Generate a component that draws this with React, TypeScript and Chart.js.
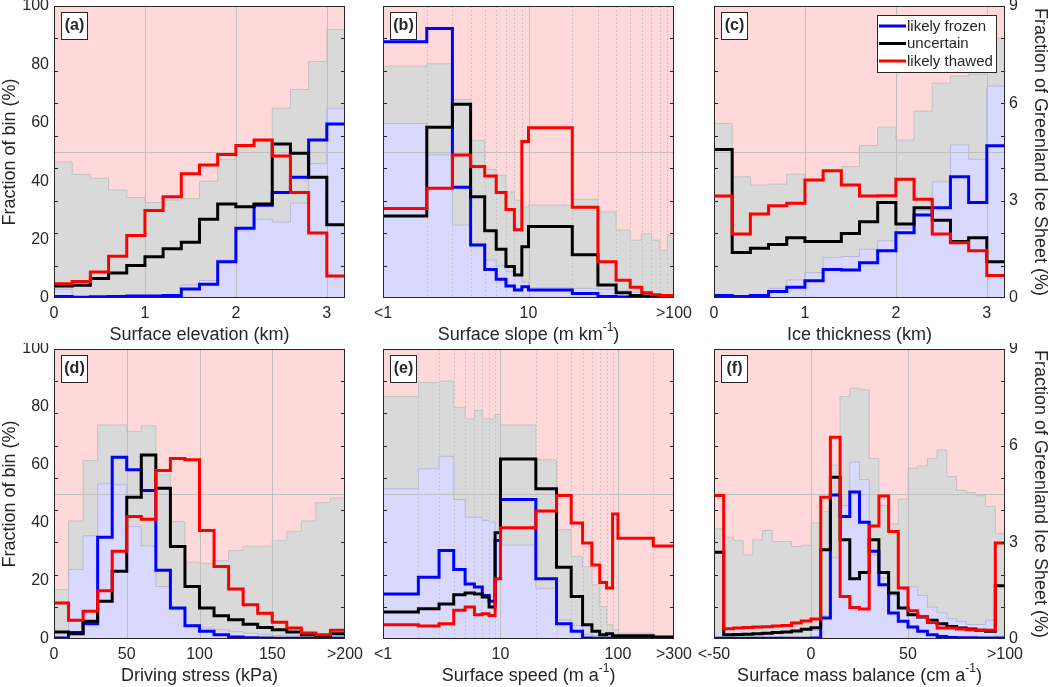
import React, { useEffect, useRef } from 'react';
import { Chart, registerables } from 'chart.js';

Chart.register(...registerables);

const FONT = "'Liberation Sans', Arial, Helvetica, sans-serif";
const TEXT = '#262626';

// ---------------- (a) Surface elevation (km) ----------------
const elevationEdgesKm = [0, 0.2, 0.4, 0.6, 0.8, 1.0, 1.2, 1.4, 1.6, 1.8, 2.0, 2.2, 2.4, 2.6, 2.8, 3.0, 3.2];
const elevationFrozenBinPct = [3, 0.5, 0.5, 0.5, 0.5, 0.5, 0.8, 4.5, 6, 13, 23, 27, 26, 32.5, 46, 65];
const elevationFrozenUncertainBinPct = [46.6, 42.3, 41, 37, 34.4, 32.7, 33.5, 34, 40, 47.5, 51.8, 53.5, 65, 71.4, 81, 92];
const elevationFrozenSheetPct = [0.05, 0.02, 0.04, 0.05, 0.06, 0.06, 0.08, 0.28, 0.42, 1.12, 2.15, 2.86, 3.25, 3.72, 4.87, 5.36];
const elevationUncertainSheetPct = [0.37, 0.39, 0.6, 0.77, 1.0, 1.27, 1.52, 1.72, 2.43, 2.9, 2.81, 2.9, 4.75, 4.46, 3.72, 2.26];
const elevationThawedSheetPct = [0.44, 0.51, 0.8, 1.29, 1.93, 2.7, 3.12, 3.83, 4.1, 4.42, 4.7, 4.87, 4.38, 3.25, 2.0, 0.68];

// ---------------- (b) Surface slope (m km-1) ----------------
const slopeEdges = [1, 2, 3, 4, 5, 6, 7, 8, 9, 10, 20, 30, 40, 50, 60, 70, 80, 90, 100];
const slopeFrozenBinPct = [59.8, 49, 25, 18.5, 13, 11, 9, 8, 5.5, 3.5, 3.3, 3, 2.5, 2, 1.5, 1.2, 1, 1];
const slopeFrozenUncertainBinPct = [79.4, 80.2, 68, 54, 44, 42, 36.3, 33.5, 31.2, 31.8, 33.8, 29.5, 23.3, 19.8, 22, 19.8, 16.3, 21.5];
const slopeFrozenSheetPct = [7.9, 8.31, 3.41, 1.63, 0.88, 0.58, 0.37, 0.25, 0.35, 0.25, 0.14, 0.05, 0.03, 0.02, 0.02, 0.02, 0.02, 0.02];
const slopeUncertainSheetPct = [2.53, 5.26, 5.97, 3.12, 2.07, 1.5, 0.97, 0.71, 1.58, 2.2, 1.33, 0.4, 0.16, 0.08, 0.06, 0.04, 0.03, 0.03];
const slopeThawedSheetPct = [2.76, 3.38, 4.41, 4.05, 3.76, 3.25, 2.73, 2.1, 4.82, 5.25, 2.8, 1.12, 0.55, 0.33, 0.16, 0.1, 0.08, 0.08];

// ---------------- (c) Ice thickness (km) ----------------
const thicknessEdgesKm = [0, 0.2, 0.4, 0.6, 0.8, 1.0, 1.2, 1.4, 1.6, 1.8, 2.0, 2.2, 2.4, 2.6, 2.8, 3.0, 3.2];
const thicknessFrozenBinPct = [1, 0.5, 0.5, 3.3, 6.2, 8.7, 13.9, 14.2, 16.7, 19.6, 24, 30, 39.8, 52.4, 47.5, 72.6];
const thicknessFrozenUncertainBinPct = [59.8, 41.5, 38.7, 39, 42.4, 40.5, 43.2, 45, 52.2, 58.5, 54.1, 64, 73.6, 76, 76.7, 89];
const thicknessFrozenSheetPct = [0.08, 0.05, 0.08, 0.2, 0.33, 0.53, 0.88, 0.86, 1.09, 1.46, 2.01, 2.56, 2.78, 3.74, 2.94, 4.69];
const thicknessUncertainSheetPct = [4.58, 1.4, 1.53, 1.65, 1.86, 1.74, 1.74, 1.99, 2.35, 2.94, 2.28, 2.78, 2.4, 1.74, 1.86, 1.12];
const thicknessThawedSheetPct = [3.14, 1.97, 2.59, 2.84, 2.92, 3.64, 3.92, 3.48, 3.14, 3.15, 3.66, 3.04, 1.97, 1.7, 1.46, 0.69];

// ---------------- (d) Driving stress (kPa) ----------------
const stressEdgesKPa = [0, 10, 20, 30, 40, 50, 60, 70, 80, 90, 100, 110, 120, 130, 140, 150, 160, 170, 180, 190, 200];
const stressFrozenBinPct = [0.7, 24, 35.6, 53.5, 53.2, 38.8, 32.1, 18.1, 10.1, 4.9, 3.8, 3.2, 2.5, 2, 1.5, 1.2, 1, 1, 1, 1];
const stressFrozenUncertainBinPct = [17, 40.7, 61.5, 73.8, 73.8, 71.5, 73.5, 56.6, 40.5, 26.5, 26, 27, 30.5, 32, 32, 34, 37, 40.7, 47, 48.6];
const stressFrozenSheetPct = [0.03, 0.2, 0.47, 3.16, 5.64, 5.25, 4.61, 2.13, 0.96, 0.41, 0.24, 0.13, 0.06, 0.04, 0.03, 0.02, 0.02, 0.02, 0.02, 0.02];
const stressUncertainSheetPct = [0.22, 0.16, 0.55, 1.17, 2.1, 4.4, 5.71, 4.68, 2.87, 1.63, 0.96, 0.72, 0.6, 0.46, 0.36, 0.29, 0.22, 0.13, 0.1, 0.16];
const stressThawedSheetPct = [1.12, 0.58, 0.86, 1.5, 2.72, 3.8, 3.72, 5.23, 5.6, 5.56, 3.37, 2.25, 1.55, 1.06, 0.8, 0.52, 0.34, 0.19, 0.13, 0.27];

// ---------------- (e) Surface speed (m a-1) ----------------
const speedEdges = [1, 2, 3, 4, 5, 6, 7, 8, 9, 10, 20, 30, 40, 50, 60, 70, 80, 90, 100, 200, 300];
const speedFrozenBinPct = [51.8, 58.7, 63, 48.1, 42, 42, 40.9, 40.3, 37, 32.4, 17.5, 6.6, 4.6, 1.5, 1.2, 1, 1, 0.8, 0.5, 0.3];
const speedFrozenUncertainBinPct = [83.6, 88.5, 88.9, 79.9, 75.9, 78.8, 75.9, 75.9, 77.4, 73.8, 61.8, 37.7, 28.5, 25, 18.7, 11.2, 4.9, 3.2, 2, 1];
const speedFrozenSheetPct = [1.4, 1.92, 2.75, 2.16, 1.71, 1.61, 1.35, 1.17, 3.06, 4.33, 1.87, 0.47, 0.24, 0.03, 0.02, 0.02, 0.02, 0.02, 0.02, 0.02];
const speedUncertainSheetPct = [0.84, 0.94, 1.09, 1.37, 1.43, 1.4, 1.3, 0.99, 3.3, 5.59, 4.66, 2.23, 1.32, 0.44, 0.24, 0.13, 0.16, 0.1, 0.1, 0.06];
const speedThawedSheetPct = [0.44, 0.4, 0.47, 0.89, 0.99, 0.75, 0.78, 0.73, 1.87, 3.45, 3.97, 4.45, 3.6, 2.98, 2.3, 1.75, 1.58, 3.88, 3.13, 2.89];

// ---------------- (f) Surface mass balance (cm a-1) ----------------
const smbEdges = [-50, -45, -40, -35, -30, -25, -20, -15, -10, -5, 0, 5, 10, 15, 20, 25, 30, 35, 40, 45, 50, 55, 60, 65, 70, 75, 80, 85, 90, 95, 100];
const smbFrozenBinPct = [0.3, 0.3, 0.3, 0.3, 0.3, 0.3, 0.3, 0.3, 0.3, 0.3, 3, 8, 28, 46, 61, 55, 29, 21, 15, 18, 18, 15, 11, 9, 7, 6, 5, 5, 6.5, 1];
const smbFrozenUncertainBinPct = [38, 35.1, 34, 29, 34.2, 37.4, 33.6, 33.6, 31.9, 32.3, 40, 44, 60, 83.6, 86.5, 85.9, 62.3, 46, 39.7, 48.2, 58.9, 59.7, 62.3, 65.2, 56, 51.2, 50.5, 49.4, 45.7, 36.3];
const smbFrozenSheetPct = [0.02, 0.02, 0.02, 0.02, 0.02, 0.02, 0.02, 0.02, 0.02, 0.02, 0.03, 0.65, 4.47, 3.8, 4.56, 3.62, 2.72, 1.68, 0.81, 0.55, 0.37, 0.24, 0.13, 0.08, 0.05, 0.04, 0.04, 0.03, 0.03, 0.03];
const smbUncertainSheetPct = [2.69, 0.13, 0.14, 0.15, 0.16, 0.18, 0.2, 0.22, 0.25, 0.3, 0.35, 2.77, 5.02, 3.08, 1.87, 2.06, 3.08, 2.06, 1.43, 0.96, 0.75, 0.68, 0.58, 0.47, 0.39, 0.34, 0.31, 0.27, 0.24, 1.65];
const smbThawedSheetPct = [4.45, 0.32, 0.34, 0.36, 0.37, 0.38, 0.4, 0.42, 0.5, 0.56, 0.62, 4.4, 6.26, 1.32, 0.98, 0.93, 3.51, 4.44, 3.34, 1.58, 0.88, 0.7, 0.51, 0.34, 0.34, 0.31, 0.29, 0.27, 0.27, 2.98];

// ---------------- labels / ticks ----------------
const seriesLabels = ['likely frozen', 'uncertain', 'likely thawed'];
const leftAxisTitle = 'Fraction of bin (%)';
const rightAxisTitle = 'Fraction of Greenland Ice Sheet (%)';

type Part = { text: string; sup?: boolean };

interface PanelSpec {
  id: string;
  tag: string;
  edges: number[];
  frozenBin: number[];
  frozenUncBin: number[];
  frozen: number[];
  uncertain: number[];
  thawed: number[];
  xType: 'linear' | 'logarithmic';
  xMin: number;
  xMax: number;
  xTicks: number[];
  xTickLabels: string[];
  gridSolid: number[];
  gridDotted: number[];
  xTitle: Part[];
  leftLabels: boolean;
  rightLabels: boolean;
  legend: boolean;
  left: number;
  top: number;
  h: number;
}

const PW = 291;
const LW = 54;
const RW = 46;
const TP = 6;
const BH = 48;

const panels: PanelSpec[] = [
  {
    id: 'a', tag: '(a)', edges: elevationEdgesKm,
    frozenBin: elevationFrozenBinPct, frozenUncBin: elevationFrozenUncertainBinPct,
    frozen: elevationFrozenSheetPct, uncertain: elevationUncertainSheetPct, thawed: elevationThawedSheetPct,
    xType: 'linear', xMin: 0, xMax: 3.2, xTicks: [0, 1, 2, 3], xTickLabels: ['0', '1', '2', '3'],
    gridSolid: [1, 2, 3], gridDotted: [],
    xTitle: [{ text: 'Surface elevation (km)' }],
    leftLabels: true, rightLabels: false, legend: false, left: 54, top: 6, h: 292,
  },
  {
    id: 'b', tag: '(b)', edges: slopeEdges,
    frozenBin: slopeFrozenBinPct, frozenUncBin: slopeFrozenUncertainBinPct,
    frozen: slopeFrozenSheetPct, uncertain: slopeUncertainSheetPct, thawed: slopeThawedSheetPct,
    xType: 'logarithmic', xMin: 1, xMax: 100, xTicks: [1, 10, 100], xTickLabels: ['<1', '10', '>100'],
    gridSolid: [10], gridDotted: [2, 3, 4, 5, 6, 7, 8, 9, 20, 30, 40, 50, 60, 70, 80, 90],
    xTitle: [{ text: 'Surface slope (m km' }, { text: '-1', sup: true }, { text: ')' }],
    leftLabels: false, rightLabels: false, legend: false, left: 383, top: 6, h: 292,
  },
  {
    id: 'c', tag: '(c)', edges: thicknessEdgesKm,
    frozenBin: thicknessFrozenBinPct, frozenUncBin: thicknessFrozenUncertainBinPct,
    frozen: thicknessFrozenSheetPct, uncertain: thicknessUncertainSheetPct, thawed: thicknessThawedSheetPct,
    xType: 'linear', xMin: 0, xMax: 3.2, xTicks: [0, 1, 2, 3], xTickLabels: ['0', '1', '2', '3'],
    gridSolid: [1, 2, 3], gridDotted: [],
    xTitle: [{ text: 'Ice thickness (km)' }],
    leftLabels: false, rightLabels: true, legend: true, left: 714, top: 6, h: 292,
  },
  {
    id: 'd', tag: '(d)', edges: stressEdgesKPa,
    frozenBin: stressFrozenBinPct, frozenUncBin: stressFrozenUncertainBinPct,
    frozen: stressFrozenSheetPct, uncertain: stressUncertainSheetPct, thawed: stressThawedSheetPct,
    xType: 'linear', xMin: 0, xMax: 200, xTicks: [0, 50, 100, 150, 200], xTickLabels: ['0', '50', '100', '150', '>200'],
    gridSolid: [50, 100, 150], gridDotted: [],
    xTitle: [{ text: 'Driving stress (kPa)' }],
    leftLabels: true, rightLabels: false, legend: false, left: 54, top: 349, h: 290,
  },
  {
    id: 'e', tag: '(e)', edges: speedEdges,
    frozenBin: speedFrozenBinPct, frozenUncBin: speedFrozenUncertainBinPct,
    frozen: speedFrozenSheetPct, uncertain: speedUncertainSheetPct, thawed: speedThawedSheetPct,
    xType: 'logarithmic', xMin: 1, xMax: 300, xTicks: [1, 10, 100, 300], xTickLabels: ['<1', '10', '100', '>300'],
    gridSolid: [10, 100], gridDotted: [2, 3, 4, 5, 6, 7, 8, 9, 20, 30, 40, 50, 60, 70, 80, 90, 200],
    xTitle: [{ text: 'Surface speed (m a' }, { text: '-1', sup: true }, { text: ')' }],
    leftLabels: false, rightLabels: false, legend: false, left: 383, top: 349, h: 290,
  },
  {
    id: 'f', tag: '(f)', edges: smbEdges,
    frozenBin: smbFrozenBinPct, frozenUncBin: smbFrozenUncertainBinPct,
    frozen: smbFrozenSheetPct, uncertain: smbUncertainSheetPct, thawed: smbThawedSheetPct,
    xType: 'linear', xMin: -50, xMax: 100, xTicks: [-50, 0, 50, 100], xTickLabels: ['<-50', '0', '50', '>100'],
    gridSolid: [0, 50], gridDotted: [],
    xTitle: [{ text: 'Surface mass balance (cm a' }, { text: '-1', sup: true }, { text: ')' }],
    leftLabels: false, rightLabels: true, legend: false, left: 714, top: 349, h: 290,
  },
];

const steps = (edges: number[], vals: number[]) =>
  edges.map((e, i) => ({ x: e, y: vals[Math.min(i, vals.length - 1)] }));

const COLORS = {
  frozen: '#0000ff',
  uncertain: '#000000',
  thawed: '#ff0000',
  pink: '#ffd9d9',
  gray: '#d9d9d9',
  blue: '#d9d9ff',
};

function makeDeco(spec: PanelSpec) {
  return {
    id: 'deco',
    beforeDraw(chart: any) {
      const { ctx, chartArea: a } = chart;
      ctx.save();
      ctx.fillStyle = COLORS.pink;
      ctx.fillRect(a.left, a.top, a.right - a.left, a.bottom - a.top);
      ctx.restore();
    },
    beforeDatasetDraw(chart: any, args: any) {
      if (args.index !== 2) return;
      const { ctx, chartArea: a, scales } = chart;
      ctx.save();
      ctx.lineWidth = 1;
      ctx.strokeStyle = '#bfbfbf';
      ctx.beginPath();
      const y50 = Math.round(scales.y.getPixelForValue(50)) + 0.5;
      ctx.moveTo(a.left, y50);
      ctx.lineTo(a.right, y50);
      spec.gridSolid.forEach((v) => {
        const x = Math.round(scales.x.getPixelForValue(v)) + 0.5;
        ctx.moveTo(x, a.top);
        ctx.lineTo(x, a.bottom);
      });
      ctx.stroke();
      if (spec.gridDotted.length) {
        ctx.setLineDash([2, 2]);
        ctx.strokeStyle = '#c6c6c6';
        ctx.beginPath();
        spec.gridDotted.forEach((v) => {
          const x = Math.round(scales.x.getPixelForValue(v)) + 0.5;
          ctx.moveTo(x, a.top);
          ctx.lineTo(x, a.bottom);
        });
        ctx.stroke();
      }
      ctx.restore();
    },
    afterDraw(chart: any) {
      const { ctx, chartArea: a, scales } = chart;
      ctx.save();
      // frame
      ctx.strokeStyle = TEXT;
      ctx.lineWidth = 1;
      ctx.strokeRect(a.left + 0.5, a.top + 0.5, a.right - a.left - 1, a.bottom - a.top - 1);
      // inward tick marks
      ctx.beginPath();
      for (let u = 1; u < 9; u++) {
        const y = Math.round(scales.y1.getPixelForValue(u)) + 0.5;
        ctx.moveTo(a.left, y);
        ctx.lineTo(a.left + 4, y);
        ctx.moveTo(a.right - 4, y);
        ctx.lineTo(a.right, y);
      }
      ctx.stroke();

      // panel tag
      const bx = a.left + 7;
      const by = a.top + 6;
      ctx.fillStyle = '#ffffff';
      ctx.fillRect(bx, by, 26, 27);
      ctx.strokeRect(bx + 0.5, by + 0.5, 26, 27);
      ctx.fillStyle = TEXT;
      ctx.font = `bold 16px ${FONT}`;
      ctx.textAlign = 'center';
      ctx.textBaseline = 'middle';
      ctx.fillText(spec.tag, bx + 13.5, by + 14);

      // x title with optional superscript
      const baseFont = `18px ${FONT}`;
      const supFont = `12px ${FONT}`;
      let total = 0;
      spec.xTitle.forEach((p) => {
        ctx.font = p.sup ? supFont : baseFont;
        total += ctx.measureText(p.text).width;
      });
      let x = (a.left + a.right) / 2 - total / 2;
      const ty = a.bottom + 37;
      ctx.textAlign = 'left';
      spec.xTitle.forEach((p) => {
        ctx.font = p.sup ? supFont : baseFont;
        ctx.fillText(p.text, x, p.sup ? ty - 7 : ty);
        x += ctx.measureText(p.text).width;
      });

      // y titles
      ctx.font = baseFont;
      ctx.textAlign = 'center';
      const cy = (a.top + a.bottom) / 2;
      if (spec.leftLabels) {
        ctx.save();
        ctx.translate(a.left - 44, cy);
        ctx.rotate(-Math.PI / 2);
        ctx.fillText(leftAxisTitle, 0, 0);
        ctx.restore();
      }
      if (spec.rightLabels) {
        ctx.save();
        ctx.translate(a.right + 35, cy);
        ctx.rotate(Math.PI / 2);
        ctx.fillText(rightAxisTitle, 0, 0);
        ctx.restore();
      }

      // legend
      if (spec.legend) {
        const lx = a.right - 128;
        const ly = a.top + 9;
        ctx.fillStyle = '#ffffff';
        ctx.fillRect(lx, ly, 119, 57);
        ctx.strokeStyle = TEXT;
        ctx.lineWidth = 1;
        ctx.strokeRect(lx + 0.5, ly + 0.5, 119, 57);
        const cols = [COLORS.frozen, COLORS.uncertain, COLORS.thawed];
        const rows = [11, 28.5, 46];
        ctx.font = `15px ${FONT}`;
        ctx.textAlign = 'left';
        ctx.textBaseline = 'middle';
        seriesLabels.forEach((lab, i) => {
          ctx.strokeStyle = cols[i];
          ctx.lineWidth = 3;
          ctx.beginPath();
          ctx.moveTo(lx + 2, ly + rows[i]);
          ctx.lineTo(lx + 29, ly + rows[i]);
          ctx.stroke();
          ctx.fillStyle = TEXT;
          ctx.fillText(lab, lx + 30, ly + rows[i] + 0.5);
        });
      }
      ctx.restore();
    },
  };
}

function Panel({ spec }: { spec: PanelSpec }) {
  const ref = useRef<HTMLCanvasElement>(null);
  const cw = LW + PW + RW;
  const ch = TP + spec.h + BH;
  useEffect(() => {
    const tickFont = { family: FONT, size: 16 };
    const lineDs = (label: string, vals: number[], color: string) => ({
      label,
      data: steps(spec.edges, vals),
      yAxisID: 'y1',
      borderColor: color,
      backgroundColor: color,
      borderWidth: 3,
      stepped: true,
      pointRadius: 0,
      fill: false,
      borderJoinStyle: 'miter',
      borderCapStyle: 'butt',
    });
    const areaDs = (label: string, vals: number[], fillColor: string, edge: string) => ({
      label,
      data: steps(spec.edges, vals),
      yAxisID: 'y',
      borderColor: edge,
      backgroundColor: fillColor,
      borderWidth: 1,
      stepped: true,
      pointRadius: 0,
      fill: 'origin',
    });
    const chart = new Chart(ref.current as HTMLCanvasElement, {
      type: 'line',
      data: {
        datasets: [
          lineDs(seriesLabels[2], spec.thawed, COLORS.thawed),
          lineDs(seriesLabels[1], spec.uncertain, COLORS.uncertain),
          lineDs(seriesLabels[0], spec.frozen, COLORS.frozen),
          areaDs('frozen share of bin', spec.frozenBin, COLORS.blue, 'rgba(170,170,205,0.7)'),
          areaDs('frozen + uncertain share of bin', spec.frozenUncBin, COLORS.gray, '#c2c2c2'),
        ] as any,
      },
      options: {
        animation: false,
        responsive: false,
        devicePixelRatio: 1,
        events: [],
        layout: { padding: { top: TP, left: 0, right: 0, bottom: 0 } },
        plugins: { legend: { display: false }, tooltip: { enabled: false } },
        scales: {
          x: {
            type: spec.xType,
            position: 'bottom',
            min: spec.xMin,
            max: spec.xMax,
            grid: { display: false, drawTicks: false },
            border: { display: false },
            ticks: {
              autoSkip: false,
              maxRotation: 0,
              minRotation: 0,
              padding: 6,
              font: tickFont,
              color: TEXT,
              callback: (_v: any, i: number) => spec.xTickLabels[i],
            },
            afterBuildTicks: (s: any) => {
              s.ticks = spec.xTicks.map((v) => ({ value: v }));
            },
            afterFit: (s: any) => {
              s.height = BH;
              s.paddingLeft = 0;
              s.paddingRight = 0;
            },
          },
          y: {
            type: 'linear',
            position: 'left',
            min: 0,
            max: 100,
            grid: { display: false, drawTicks: false },
            border: { display: false },
            ticks: { display: spec.leftLabels, stepSize: 20, padding: 5, font: tickFont, color: TEXT },
            afterFit: (s: any) => {
              s.width = LW;
              s.paddingTop = 0;
              s.paddingBottom = 0;
            },
          },
          y1: {
            type: 'linear',
            position: 'right',
            min: 0,
            max: 9,
            grid: { display: false, drawTicks: false },
            border: { display: false },
            ticks: { display: spec.rightLabels, stepSize: 3, padding: 4, font: tickFont, color: TEXT },
            afterFit: (s: any) => {
              s.width = RW;
              s.paddingTop = 0;
              s.paddingBottom = 0;
            },
          },
        },
      } as any,
      plugins: [makeDeco(spec)],
    });
    return () => chart.destroy();
  }, []);
  return (
    <canvas
      ref={ref}
      width={cw}
      height={ch}
      style={{ position: 'absolute', left: spec.left - LW, top: spec.top - TP, width: cw, height: ch }}
    />
  );
}

export default function App() {
  return (
    <div
      style={{
        position: 'absolute',
        left: 0,
        top: 0,
        width: 1050,
        height: 687,
        overflow: 'hidden',
        background: '#ffffff',
      }}
    >
      {panels.map((p) => (
        <Panel key={p.id} spec={p} />
      ))}
    </div>
  );
}
